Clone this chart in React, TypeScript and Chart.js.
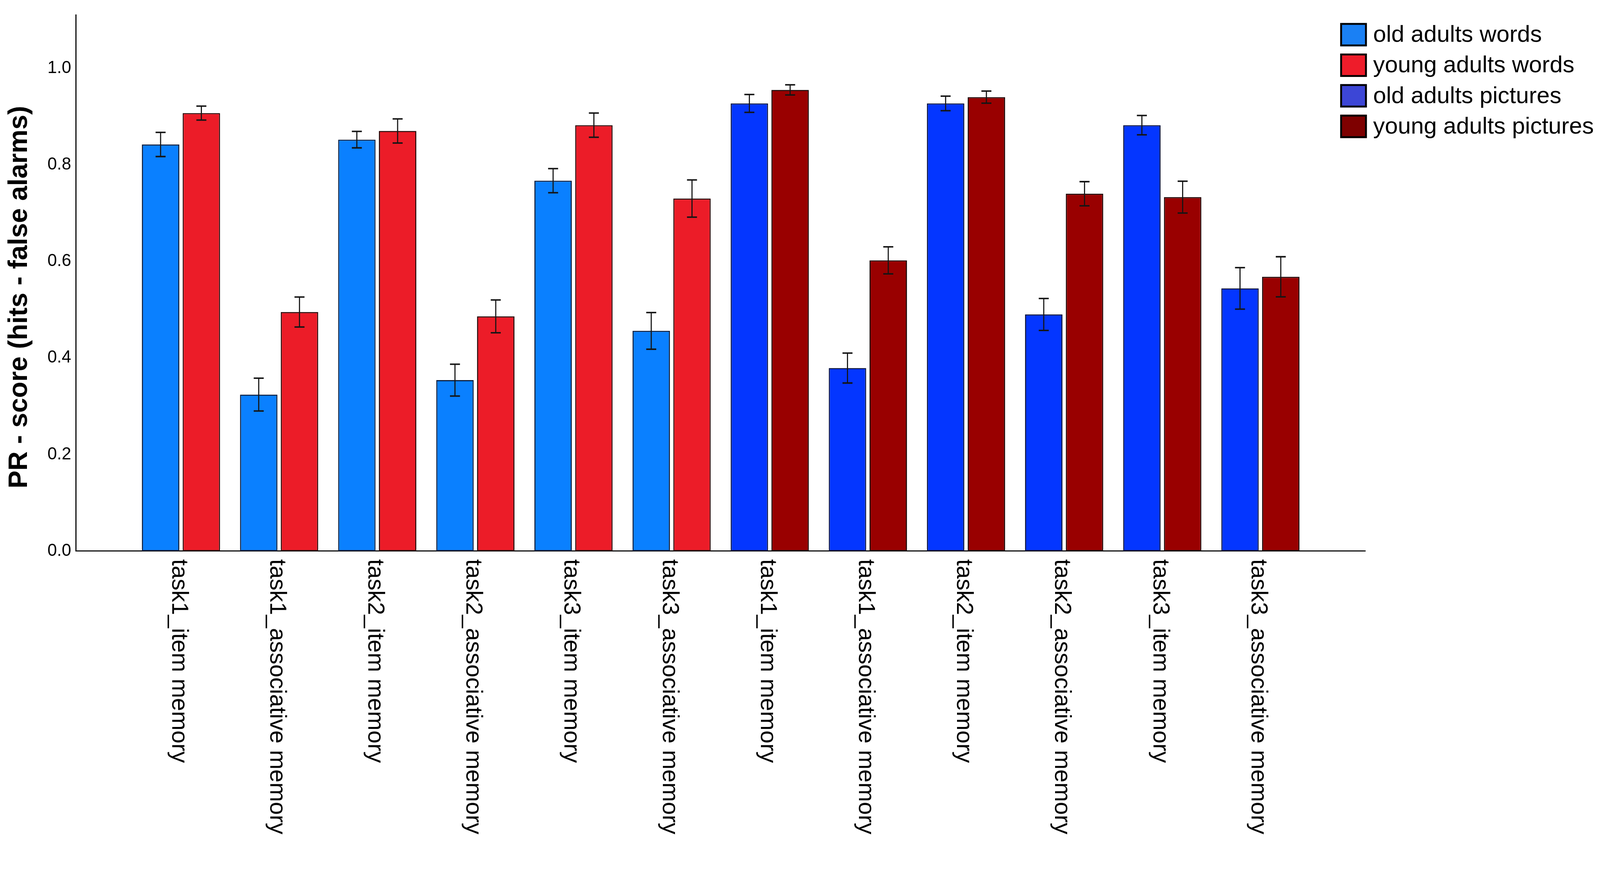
import React, { useEffect, useRef } from 'react';
import { Chart, registerables } from 'chart.js';

Chart.register(...registerables);

// ---------- data ----------
const categories = [
  'task1_item memory',
  'task1_associative memory',
  'task2_item memory',
  'task2_associative memory',
  'task3_item memory',
  'task3_associative memory',
  'task1_item memory',
  'task1_associative memory',
  'task2_item memory',
  'task2_associative memory',
  'task3_item memory',
  'task3_associative memory',
];

const seriesLabels = [
  'old adults words',
  'young adults words',
  'old adults pictures',
  'young adults pictures',
];

const oldWords = [0.842, 0.324, 0.852, 0.354, 0.767, 0.456, null, null, null, null, null, null];
const youngWords = [0.907, 0.495, 0.870, 0.486, 0.882, 0.730, null, null, null, null, null, null];
const oldPictures = [null, null, null, null, null, null, 0.927, 0.379, 0.927, 0.490, 0.882, 0.544];
const youngPictures = [null, null, null, null, null, null, 0.955, 0.602, 0.940, 0.740, 0.733, 0.568];

const oldWordsErr = [0.025, 0.034, 0.017, 0.033, 0.025, 0.038, null, null, null, null, null, null];
const youngWordsErr = [0.0145, 0.031, 0.025, 0.034, 0.025, 0.0385, null, null, null, null, null, null];
const oldPicturesErr = [null, null, null, null, null, null, 0.0185, 0.031, 0.015, 0.033, 0.020, 0.043];
const youngPicturesErr = [null, null, null, null, null, null, 0.0105, 0.028, 0.0125, 0.025, 0.033, 0.0415];

const yTicks = [0, 0.2, 0.4, 0.6, 0.8, 1.0];
const yTitle = 'PR - score (hits - false alarms)';

// ---------- styles ----------
const barColors = ['#0a80ff', '#ec1c28', '#0436ff', '#990000'];
const barBorders = ['#0b1e40', '#2a0808', '#0a1340', '#1c0404'];
const legendColors = ['#1a80f4', '#ee1c2a', '#3c46d6', '#7e0000'];
const FONT = '"Liberation Sans", Arial, Helvetica, sans-serif';

const valueSeries = [oldWords, youngWords, oldPictures, youngPictures];
const errorSeries = [oldWordsErr, youngWordsErr, oldPicturesErr, youngPicturesErr];

// reference frame the design was measured in
const REF_W = 4317;
const REF_H = 2263;

function makeErrorBarPlugin(s: number) {
  return {
    id: 'errorBars',
    afterDatasetsDraw(chart: any) {
      const ctx = chart.ctx;
      const yScale = chart.scales.y;
      valueSeries.forEach((vals, di) => {
        const meta = chart.getDatasetMeta(di);
        meta.data.forEach((el: any, i: number) => {
          const v = vals[i];
          const e = errorSeries[di][i];
          if (v == null || e == null) return;
          const top = yScale.getPixelForValue(v + e);
          const bot = yScale.getPixelForValue(v - e);
          const half = 13.5 * s;
          ctx.save();
          ctx.strokeStyle = '#151515';
          ctx.lineWidth = 3 * s;
          ctx.beginPath();
          ctx.moveTo(el.x, top);
          ctx.lineTo(el.x, bot);
          ctx.stroke();
          ctx.lineWidth = 4 * s;
          ctx.beginPath();
          ctx.moveTo(el.x - half, top);
          ctx.lineTo(el.x + half, top);
          ctx.moveTo(el.x - half, bot);
          ctx.lineTo(el.x + half, bot);
          ctx.stroke();
          ctx.restore();
        });
      });
    },
  };
}

function makeDecorPlugin(s: number) {
  return {
    id: 'decor',
    afterDraw(chart: any) {
      const ctx = chart.ctx;
      const xScale = chart.scales.x;
      const area = chart.chartArea;

      // rotated category labels (reading top to bottom)
      ctx.save();
      ctx.fillStyle = '#000';
      ctx.font = `${63 * s}px ${FONT}`;
      ctx.textAlign = 'left';
      ctx.textBaseline = 'alphabetic';
      categories.forEach((label, i) => {
        const cx = xScale.getPixelForValue(i);
        ctx.save();
        ctx.translate(cx, area.bottom + 22 * s);
        ctx.rotate(Math.PI / 2);
        ctx.fillText(label, 0, 24 * s);
        ctx.restore();
      });
      ctx.restore();

      // y axis title
      ctx.save();
      ctx.fillStyle = '#000';
      ctx.font = `bold ${72 * s}px ${FONT}`;
      ctx.textAlign = 'center';
      ctx.textBaseline = 'alphabetic';
      ctx.translate(73 * s, (area.top + area.bottom) / 2 + 38 * s);
      ctx.rotate(-Math.PI / 2);
      ctx.fillText(yTitle, 0, 0);
      ctx.restore();

      // legend
      ctx.save();
      const boxW = 72 * s;
      const boxH = 63 * s;
      const boxX = area.right - 68 * s;
      const pitch = 82.5 * s;
      const top0 = 62 * s;
      const lw = 5 * s;
      ctx.font = `${63 * s}px ${FONT}`;
      ctx.textAlign = 'left';
      ctx.textBaseline = 'middle';
      seriesLabels.forEach((label, k) => {
        const y0 = top0 + k * pitch;
        ctx.fillStyle = legendColors[k];
        ctx.fillRect(boxX, y0, boxW, boxH);
        ctx.strokeStyle = '#000';
        ctx.lineWidth = lw;
        ctx.strokeRect(boxX + lw / 2, y0 + lw / 2, boxW - lw, boxH - lw);
        ctx.fillStyle = '#000';
        ctx.fillText(label, boxX + boxW + 17 * s, y0 + boxH / 2 + 2 * s);
      });
      ctx.restore();
    },
  };
}

export default function App() {
  const ref = useRef<HTMLCanvasElement>(null);

  useEffect(() => {
    document.body.style.margin = '0';
    document.body.style.overflow = 'hidden';
    const canvas = ref.current;
    if (!canvas) return;

    const W = window.innerWidth || document.documentElement.clientWidth || REF_W;
    const H = window.innerHeight || document.documentElement.clientHeight || REF_H;
    const s = Math.min(W / REF_W, H / REF_H);
    const cw = Math.round(REF_W * s);
    const ch = Math.round(REF_H * s);
    canvas.width = cw;
    canvas.height = ch;
    canvas.style.width = `${cw}px`;
    canvas.style.height = `${ch}px`;

    const datasets = valueSeries.map((vals, di) => ({
      label: seriesLabels[di],
      data: vals.map((v, i) => ({ x: i, y: v })),
      backgroundColor: barColors[di],
      borderColor: barBorders[di],
      borderWidth: 3 * s,
      borderSkipped: false as any,
      categoryPercentage: 0.831,
      barPercentage: 0.918,
      skipNull: true,
    }));

    const chart = new Chart(canvas, {
      type: 'bar',
      data: { datasets: datasets as any },
      options: {
        animation: false,
        responsive: false,
        events: [],
        layout: { padding: { top: 12 * s, right: 633 * s, bottom: 0, left: 0 } },
        plugins: {
          legend: { display: false },
          tooltip: { enabled: false },
          title: { display: false },
        },
        scales: {
          x: {
            type: 'linear',
            min: -1.07,
            max: 12.07,
            offset: false,
            grid: { display: false, drawTicks: false, offset: false },
            border: { display: true, color: '#000', width: 3 * s },
            ticks: { display: false },
            afterFit: (sc: any) => {
              sc.height = 776 * s;
            },
          },
          y: {
            type: 'linear',
            min: 0,
            max: 1.11,
            grid: { display: false, drawTicks: false },
            border: { display: true, color: '#000', width: 3 * s },
            ticks: {
              padding: 13 * s,
              color: '#000',
              font: { size: 46 * s, family: FONT },
              callback: (v: any) => Number(v).toFixed(1),
            },
            afterBuildTicks: (axis: any) => {
              axis.ticks = yTicks.map((v) => ({ value: v }));
            },
            afterFit: (sc: any) => {
              sc.width = 205 * s;
            },
          },
        },
      } as any,
      plugins: [makeErrorBarPlugin(s), makeDecorPlugin(s)],
    });

    return () => chart.destroy();
  }, []);

  return <canvas ref={ref} style={{ display: 'block' }} />;
}
